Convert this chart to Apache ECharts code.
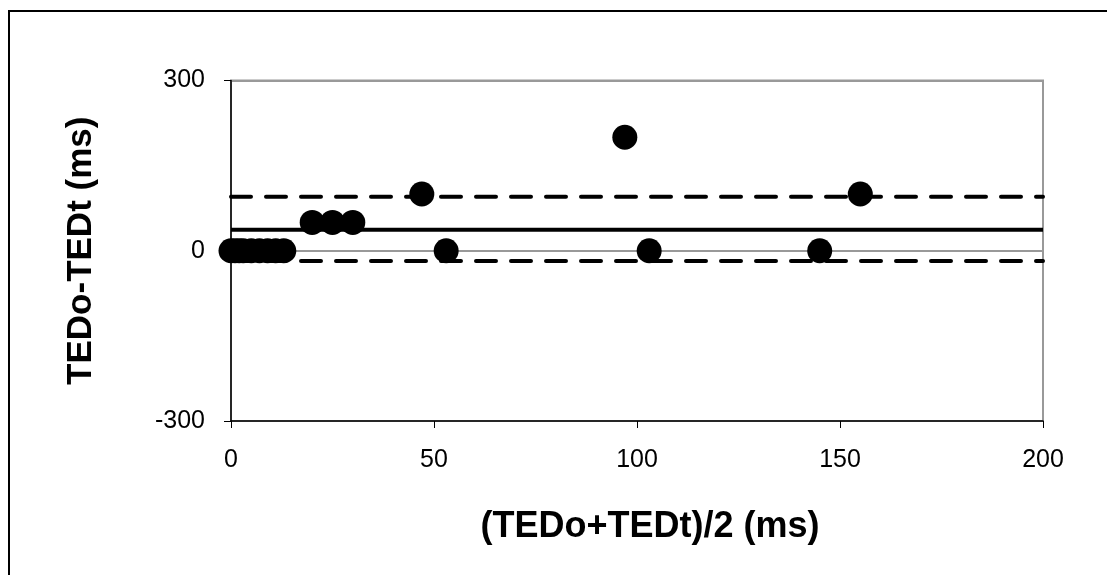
<!DOCTYPE html>
<html>
<head>
<meta charset="utf-8">
<script src="https://cdn.jsdelivr.net/npm/echarts@6/dist/echarts.min.js"></script>
<style>
html,body{margin:0;padding:0;background:#fff;}
#chart{width:1107px;height:575px;}
</style>
</head>
<body>
<div id="chart"></div>
<script>
// Data (mean of TEDo and TEDt vs. difference)
const meanX = [0, 1, 2, 3, 5, 7, 9, 11, 13, 20, 25, 30, 47, 53, 97, 103, 145, 155];
const diffY = [0, 0, 0, 0, 0, 0, 0, 0, 0, 50, 50, 50, 100, 0, 200, 0, 0, 100];
const biasValue = 37;
const upperLimit = 95;
const lowerLimit = -18;
const xTicks = [0, 50, 100, 150, 200];
const yTicks = [-300, 0, 300];

const points = meanX.map((x, i) => [x, diffY[i]]);
const font = '"Liberation Sans", Arial, sans-serif';

const chart = echarts.init(document.getElementById('chart'), null, {renderer: 'canvas'});
chart.setOption({
  animation: false,
  backgroundColor: '#fff',
  graphic: [{
    type: 'rect', shape: {x: 9, y: 11, width: 1200, height: 700},
    style: {fill: 'none', stroke: '#000', lineWidth: 2}, silent: true, z: -1
  }, {
    type: 'rect', shape: {x: 231, y: 80.5, width: 812, height: 340.5},
    style: {fill: 'none', stroke: '#999', lineWidth: 2}, silent: true, z: 0
  }],
  grid: {left: 231, top: 80.5, right: 64, bottom: 154, containLabel: false},
  xAxis: {
    type: 'value', min: xTicks[0], max: xTicks[xTicks.length - 1], interval: 50,
    name: '(TEDo+TEDt)/2 (ms)', nameLocation: 'middle', nameGap: 88,
    nameTextStyle: {fontFamily: font, fontSize: 36, fontWeight: 'bold', color: '#000', padding: [0, 0, 0, 26]},
    axisLine: {onZero: false, lineStyle: {color: '#000', width: 1.5}},
    axisTick: {show: true, length: 7, lineStyle: {color: '#000'}},
    axisLabel: {fontFamily: font, fontSize: 25, color: '#000', margin: 27},
    splitLine: {show: false}
  },
  yAxis: {
    type: 'value', min: yTicks[0], max: yTicks[yTicks.length - 1], interval: 300,
    name: 'TEDo-TEDt (ms)', nameLocation: 'middle', nameGap: 132, nameRotate: 90,
    nameTextStyle: {fontFamily: font, fontSize: 35, fontWeight: 'bold', color: '#000'},
    axisLine: {onZero: false, lineStyle: {color: '#000', width: 1.5}},
    axisTick: {show: true, length: 7, lineStyle: {color: '#000'}},
    axisLabel: {fontFamily: font, fontSize: 25, color: '#000', margin: 26},
    splitLine: {show: true, lineStyle: {color: '#999', width: 2}}
  },
  series: [{
    type: 'line', data: [[0, upperLimit], [200, upperLimit]], symbol: 'none', z: 3,
    lineStyle: {color: '#000', width: 4, type: [20, 15], cap: 'round'}
  }, {
    type: 'line', data: [[0, lowerLimit], [200, lowerLimit]], symbol: 'none', z: 3,
    lineStyle: {color: '#000', width: 4, type: [20, 15], cap: 'round'}
  }, {
    type: 'line', data: [[0, biasValue], [200, biasValue]], symbol: 'none', z: 3,
    lineStyle: {color: '#000', width: 4}
  }, {
    type: 'scatter', data: points, symbol: 'circle', symbolSize: 25, z: 5,
    itemStyle: {color: '#000', opacity: 1}
  }]
});
</script>
</body>
</html>
